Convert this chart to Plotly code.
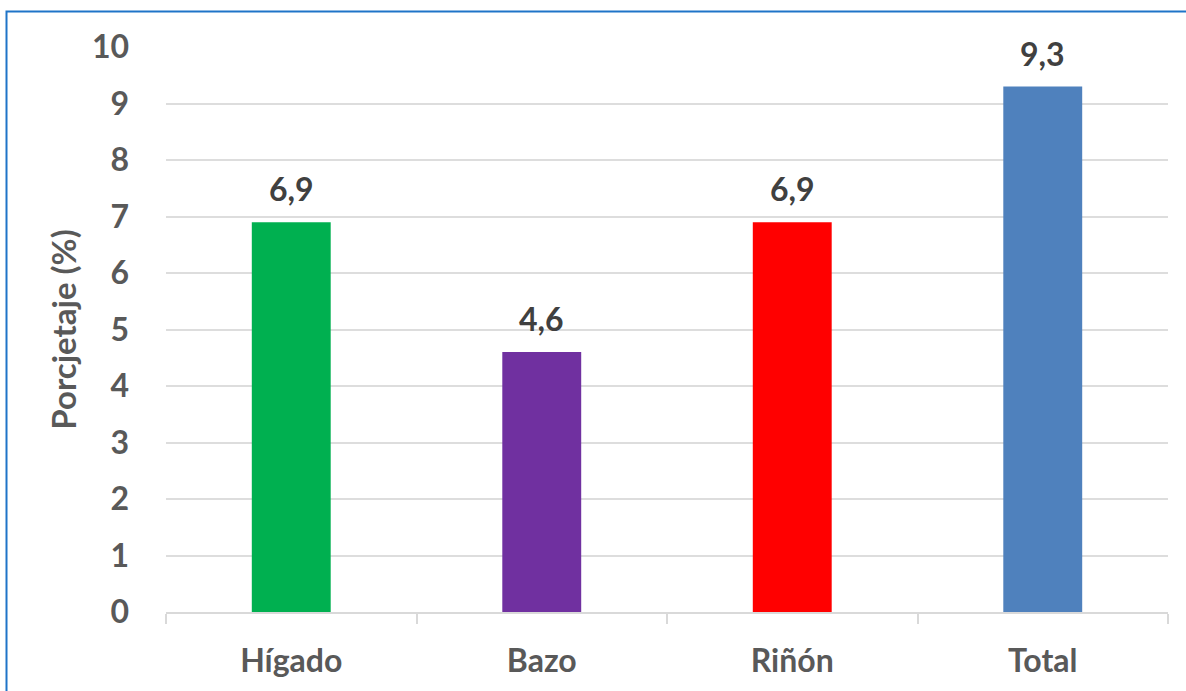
import plotly.graph_objects as go

categories = ["Hígado", "Bazo", "Riñón", "Total"]
values = [6.9, 4.6, 6.9, 9.3]
colors = ["#00B050", "#7030A0", "#FF0000", "#4F81BD"]
y_ticks = list(range(0, 11))

font_family = "Lato, 'Open Sans', sans-serif"

fig = go.Figure()
fig.add_trace(go.Bar(
    x=categories, y=values, marker=dict(color=colors, line=dict(width=0)),
    width=0.315, hoverinfo="skip",
))

for c, v in zip(categories, values):
    fig.add_annotation(
        x=c, y=v, text=f"{v:.1f}".replace(".", ","), showarrow=False,
        yanchor="bottom", yshift=12,
        font=dict(family=font_family, size=32, color="#404040", weight="bold"),
    )

fig.update_layout(
    width=1186, height=691,
    margin=dict(l=166, r=18, t=47, b=79),
    paper_bgcolor="white", plot_bgcolor="white",
    showlegend=False,
    font=dict(family=font_family, color="#595959"),
    xaxis=dict(
        type="category", showgrid=False, showline=True, linecolor="#D9D9D9", linewidth=1.5,
        ticks="outside", tickson="boundaries", ticklen=10, tickcolor="#D9D9D9", tickwidth=1.5,
        tickfont=dict(family=font_family, size=32, color="#595959", weight="bold"),
        ticklabelstandoff=20,
    ),
    yaxis=dict(
        range=[0, 10], tickvals=y_ticks, showgrid=True, gridcolor="#DDDDDD", gridwidth=1.5,
        zeroline=False, showline=False, ticks="",
        tickfont=dict(family=font_family, size=32, color="#595959", weight="bold"),
        ticklabelstandoff=36,
        title=dict(text="Porcjetaje (%)", standoff=5,
                   font=dict(family=font_family, size=33, color="#595959", weight="bold")),
    ),
    shapes=[dict(
        type="rect", xref="paper", yref="paper",
        x0=(6.5 - 166) / 1002, x1=(1195 - 166) / 1002,
        y0=(612 - 700) / 565, y1=(612 - 11.5) / 565,
        line=dict(color="#1F74C8", width=2), fillcolor="rgba(0,0,0,0)", layer="below",
    )],
)

fig.write_html("out.html", config={"displayModeBar": False},
               post_script="document.body.style.margin='0';")
